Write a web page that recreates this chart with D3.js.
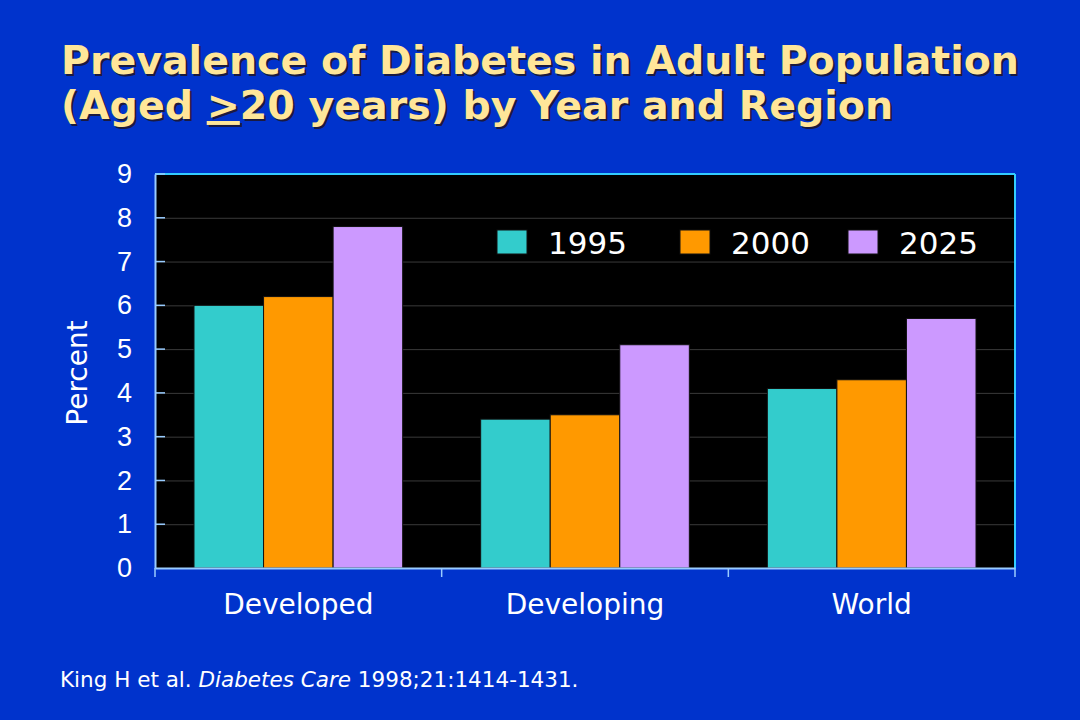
<!DOCTYPE html>
<html><head><meta charset="utf-8">
<script src="https://cdn.jsdelivr.net/npm/d3@7"></script>
<style>html,body{margin:0;padding:0;background:#0033CC;}svg{display:block;}</style>
</head><body>
<svg id="chart" width="1080" height="720"></svg>
<script>
const regions = ["Developed", "Developing", "World"];
const years = ["1995", "2000", "2025"];
const values1995 = [6.0, 3.4, 4.1];
const values2000 = [6.2, 3.5, 4.3];
const values2025 = [7.8, 5.1, 5.7];
const yTicks = [0, 1, 2, 3, 4, 5, 6, 7, 8, 9];
const colors = ["#33CCCC", "#FF9900", "#CC99FF"];

const series = [values1995, values2000, values2025];
const data = regions.map((r, i) => ({region: r, vals: years.map((y, j) => ({year: y, v: series[j][i]}))}));

const svg = d3.select("#chart");
svg.append("rect").attr("width",1080).attr("height",720).attr("fill","#0033CC");

// Title
const title = svg.append("g").attr("font-family","'DejaVu Sans', Verdana, sans-serif").attr("font-weight","bold").attr("font-size",39.5);
function titleLine(g, y, parts, fill, dx, dy){
  const t = g.append("text").attr("x",61+dx).attr("y",y+dy).attr("fill",fill);
  parts.forEach(p => { const s = t.append("tspan").text(p.t); if (p.u) s.attr("text-decoration","underline"); });
}
const line1 = [{t:"Prevalence of Diabetes in Adult Population"}];
const line2 = [{t:"(Aged "},{t:">",u:true},{t:"20 years) by Year and Region"}];
titleLine(title, 74, line1, "#1a1a40", 2, 2);
titleLine(title, 119, line2, "#1a1a40", 2, 2);
titleLine(title, 74, line1, "#FFE699", 0, 0);
titleLine(title, 119, line2, "#FFE699", 0, 0);

const L = 155, R = 1015, T = 174, B = 568;
const y = d3.scaleLinear().domain([0, 9]).range([B, T]);
const x = d3.scaleBand().domain(regions).range([L, R]).padding(0);
const xi = d3.scaleBand().domain(years).range([39, x.bandwidth() - 39]).padding(0);

// plot background
svg.append("rect").attr("x",L).attr("y",T).attr("width",R-L).attr("height",B-T).attr("fill","#000000");

// gridlines
svg.append("g").selectAll("line").data(yTicks.filter(d => d > 0 && d < 9)).join("line")
  .attr("x1",L).attr("x2",R).attr("y1",d=>y(d)+0.5).attr("y2",d=>y(d)+0.5)
  .attr("stroke","#3a3a3a").attr("stroke-width",1);

// bars
const groups = svg.append("g").selectAll("g").data(data).join("g")
  .attr("transform", d => `translate(${x(d.region)},0)`);
groups.selectAll("rect").data(d => d.vals).join("rect")
  .attr("x", d => xi(d.year)).attr("width", xi.bandwidth())
  .attr("y", d => y(d.v)).attr("height", d => y(0) - y(d.v))
  .attr("fill", (d, j) => colors[j]).attr("stroke","#111").attr("stroke-width",1);

// frame top/right
svg.append("line").attr("x1",L).attr("x2",R).attr("y1",T).attr("y2",T).attr("stroke","#33CCFF").attr("stroke-width",2);
svg.append("line").attr("x1",R).attr("x2",R).attr("y1",T).attr("y2",B).attr("stroke","#33CCFF").attr("stroke-width",2);

// y axis
const yAxis = d3.axisLeft(y).tickValues(yTicks).tickSize(0).tickPadding(23).tickFormat(d3.format("d"));
const gy = svg.append("g").attr("transform",`translate(${L},0)`).call(yAxis);
gy.select(".domain").attr("stroke","#99CCFF").attr("stroke-width",2);
gy.selectAll("text").attr("fill","#FFFFFF").attr("font-family","'Liberation Sans', Arial, sans-serif").attr("font-size",27);
// inward ticks
svg.append("g").selectAll("line").data(yTicks.filter(d=>d>0)).join("line")
  .attr("x1",L).attr("x2",L+10).attr("y1",d=>y(d)).attr("y2",d=>y(d))
  .attr("stroke","#99CCFF").attr("stroke-width",1.5);

// x axis
const xAxis = d3.axisBottom(x).tickSize(0).tickPadding(26);
const gx = svg.append("g").attr("transform",`translate(0,${B})`).call(xAxis);
gx.select(".domain").attr("stroke","#99CCFF").attr("stroke-width",2);
gx.selectAll("text").attr("fill","#FFFFFF").attr("font-family","'DejaVu Sans', Verdana, sans-serif").attr("font-size",28);
const bounds = regions.map(r => x(r)).concat([R]);
svg.append("g").selectAll("line").data(bounds).join("line")
  .attr("x1",d=>d).attr("x2",d=>d).attr("y1",B).attr("y2",B+9)
  .attr("stroke","#99CCFF").attr("stroke-width",1.5);

// y label
svg.append("text").attr("transform","translate(87,373) rotate(-90)")
  .attr("text-anchor","middle").attr("fill","#FFFFFF")
  .attr("font-family","'DejaVu Sans', Verdana, sans-serif").attr("font-size",28).text("Percent");

// legend
const legendX = [497, 680, 848];
const lg = svg.append("g").selectAll("g").data(years).join("g")
  .attr("transform",(d,i)=>`translate(${legendX[i]},230)`);
lg.append("rect").attr("width",30).attr("height",24).attr("fill",(d,i)=>colors[i]).attr("stroke","#111").attr("stroke-width",1);
lg.append("text").attr("x",51).attr("y",23.5).attr("fill","#FFFFFF")
  .attr("font-family","'DejaVu Sans', Verdana, sans-serif").attr("font-size",31).text(d=>d);

// footer
const ft = svg.append("text").attr("x",60).attr("y",687).attr("fill","#FFFFFF")
  .attr("font-family","'DejaVu Sans', Verdana, sans-serif").attr("font-size",21.5);
ft.append("tspan").text("King H et al. ");
ft.append("tspan").attr("font-style","italic").text("Diabetes Care");
ft.append("tspan").text(" 1998;21:1414-1431.");
</script>
</body></html>
